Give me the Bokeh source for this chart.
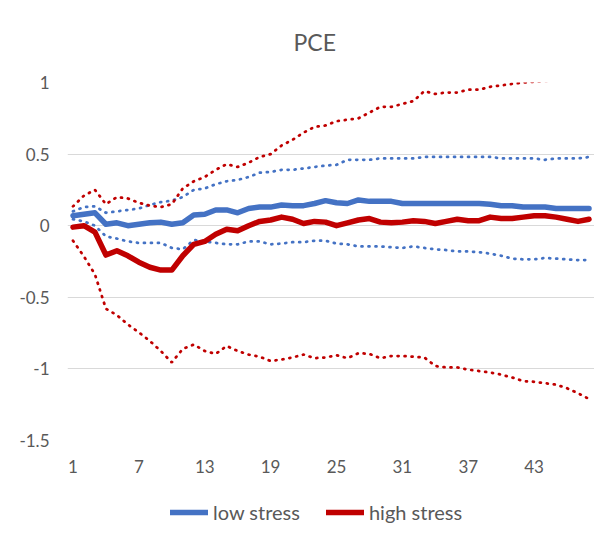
from bokeh.plotting import figure
from bokeh.layouts import column
from bokeh.models import Range1d, FixedTicker, Legend, LegendItem, Label
from bokeh.embed import file_html
from bokeh.resources import INLINE

periods = list(range(1, 49))

low_stress = [0.07, 0.08, 0.09, 0.01, 0.02, 0.00, 0.01, 0.02, 0.025, 0.01,
              0.02, 0.075, 0.08, 0.11, 0.11, 0.09, 0.12, 0.13, 0.13, 0.145,
              0.14, 0.14, 0.155, 0.175, 0.16, 0.155, 0.18, 0.17, 0.17, 0.17,
              0.155, 0.155, 0.155, 0.155, 0.155, 0.155, 0.155, 0.155, 0.15, 0.14,
              0.14, 0.13, 0.13, 0.13, 0.12, 0.12, 0.12, 0.12]
low_upper = [0.10, 0.13, 0.135, 0.09, 0.10, 0.11, 0.12, 0.145, 0.165, 0.175,
             0.20, 0.25, 0.26, 0.29, 0.31, 0.32, 0.34, 0.37, 0.375, 0.39,
             0.39, 0.40, 0.41, 0.42, 0.425, 0.46, 0.46, 0.46, 0.47, 0.47,
             0.47, 0.47, 0.48, 0.48, 0.48, 0.48, 0.48, 0.48, 0.48, 0.47,
             0.47, 0.47, 0.47, 0.46, 0.47, 0.47, 0.47, 0.48]
low_lower = [0.045, 0.03, 0.00, -0.075, -0.09, -0.11, -0.12, -0.12, -0.12, -0.155,
             -0.165, -0.10, -0.11, -0.12, -0.13, -0.13, -0.11, -0.11, -0.13, -0.125,
             -0.115, -0.115, -0.105, -0.105, -0.125, -0.13, -0.145, -0.145, -0.145, -0.15,
             -0.155, -0.145, -0.155, -0.165, -0.17, -0.18, -0.18, -0.185, -0.195, -0.21,
             -0.23, -0.235, -0.235, -0.225, -0.23, -0.235, -0.24, -0.24]
high_stress = [-0.01, 0.00, -0.045, -0.205, -0.175, -0.21, -0.255, -0.29, -0.31, -0.31,
               -0.21, -0.13, -0.11, -0.06, -0.025, -0.035, 0.00, 0.03, 0.04, 0.06,
               0.045, 0.015, 0.03, 0.025, 0.00, 0.02, 0.04, 0.05, 0.025, 0.02,
               0.025, 0.035, 0.03, 0.015, 0.03, 0.045, 0.035, 0.035, 0.06, 0.05,
               0.05, 0.06, 0.07, 0.07, 0.06, 0.045, 0.03, 0.045]
high_upper = [0.135, 0.21, 0.25, 0.15, 0.20, 0.19, 0.16, 0.14, 0.13, 0.15,
              0.26, 0.31, 0.34, 0.39, 0.43, 0.41, 0.44, 0.48, 0.50, 0.56,
              0.60, 0.65, 0.69, 0.70, 0.73, 0.74, 0.75, 0.79, 0.83, 0.83,
              0.85, 0.87, 0.94, 0.92, 0.93, 0.93, 0.95, 0.95, 0.97, 0.98,
              0.99, 1.00, 1.005, 1.01, 1.02, 1.04, 1.06, 1.08]
high_lower = [-0.105, -0.215, -0.34, -0.58, -0.625, -0.69, -0.745, -0.805, -0.875, -0.955,
              -0.86, -0.83, -0.875, -0.895, -0.84, -0.875, -0.9, -0.915, -0.945, -0.935,
              -0.92, -0.9, -0.925, -0.92, -0.905, -0.925, -0.89, -0.895, -0.925, -0.91,
              -0.91, -0.915, -0.92, -0.98, -0.99, -0.99, -1.005, -1.015, -1.025, -1.04,
              -1.06, -1.085, -1.09, -1.10, -1.11, -1.135, -1.17, -1.21]

x_ticks = [1, 7, 13, 19, 25, 31, 37, 43]
y_ticks = [-1.5, -1, -0.5, 0, 0.5, 1]
y_tick_labels = ["-1.5", "-1", "-0.5", "0", "0.5", "1"]
series_names = ["low stress", "high stress"]
chart_title = "PCE"

BLUE = "#4472C4"
RED = "#C00000"
TXT = "#595959"
FONT = "Lato"


def strip(height):
    f = figure(width=594, height=height, output_backend="svg", toolbar_location=None,
               x_range=Range1d(0.5, 48.5), y_range=Range1d(-1.5, 1.0),
               min_border_left=0, min_border_right=0, min_border_top=0,
               min_border_bottom=0, title=None)
    f.axis.visible = False
    f.grid.visible = False
    f.outline_line_color = None
    f.border_fill_color = "white"
    return f


# title strip
p0 = strip(60)
p0.add_layout(Label(x=226, y=19, x_units="screen", y_units="screen",
                    text=chart_title, text_font=FONT, text_font_size="23px",
                    text_color=TXT, text_align="left", text_baseline="alphabetic"))

p = figure(width=594, height=430, output_backend="svg", toolbar_location=None,
           x_range=Range1d(0.5, 48.5), y_range=Range1d(-1.5, 1.0),
           min_border_left=67, min_border_right=0, min_border_top=22,
           min_border_bottom=50, title=None)
p.outline_line_color = None
p.background_fill_color = "white"
p.border_fill_color = "white"

# grid
p.xgrid.grid_line_color = None
p.ygrid.ticker = FixedTicker(ticks=y_ticks)
p.ygrid.grid_line_color = "#D9D9D9"
p.ygrid.grid_line_width = 1

# axes
p.yaxis.ticker = FixedTicker(ticks=y_ticks)
p.yaxis.major_label_overrides = {v: s for v, s in zip(y_ticks, y_tick_labels)}
p.xaxis.ticker = FixedTicker(ticks=x_ticks)
p.xaxis.major_label_overrides = {v: str(v) for v in x_ticks}
for ax in (p.xaxis, p.yaxis):
    ax.axis_line_color = None
    ax.major_tick_line_color = None
    ax.minor_tick_line_color = None
    ax.major_tick_out = 0
    ax.major_tick_in = 0
    ax.major_label_text_font = FONT
    ax.major_label_text_font_size = "17px"
    ax.major_label_text_color = TXT
p.yaxis.major_label_standoff = 18
p.xaxis.major_label_standoff = 19

dot = dict(line_width=2.75, line_dash="1 6", line_cap="round")
p.line(periods, low_upper, line_color=BLUE, **dot)
p.line(periods, low_lower, line_color=BLUE, **dot)
p.line(periods, high_upper, line_color=RED, **dot)
p.line(periods, high_lower, line_color=RED, **dot)
line_style = dict(line_width=5.5, line_join="round", line_cap="round")
p.line(periods, low_stress, line_color=BLUE, **line_style)
p.line(periods, high_stress, line_color=RED, **line_style)

# legend strip below the chart
p2 = strip(56)
lg_low = p2.line(periods, low_stress, line_color=BLUE, visible=False, **line_style)
lg_high = p2.line(periods, high_stress, line_color=RED, visible=False, **line_style)
legend = Legend(items=[LegendItem(label=series_names[0], renderers=[lg_low]),
                       LegendItem(label=series_names[1], renderers=[lg_high])],
                orientation="horizontal", location=(103, 22),
                glyph_width=38, glyph_height=20, label_standoff=5, spacing=26,
                padding=0, margin=0, border_line_color=None,
                background_fill_alpha=0, inactive_fill_alpha=0,
                label_text_font=FONT, label_text_font_size="20px",
                label_text_color=TXT)
p2.add_layout(legend, "center")

open("out.html", "w").write(file_html(column(p0, p, p2, spacing=0), INLINE))
